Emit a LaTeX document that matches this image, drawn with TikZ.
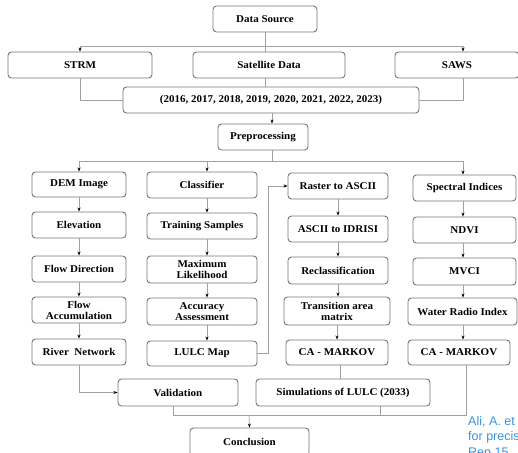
\documentclass[tikz,border=0pt]{standalone}
\usepackage{fontspec}
\setmainfont[FakeStretch=1.06]{Liberation Serif}
\newfontfamily\citefont{Liberation Sans}
\usetikzlibrary{arrows.meta}
\definecolor{boxline}{HTML}{767676}
\definecolor{conn}{HTML}{A0A0A0}
\definecolor{citeblue}{HTML}{3A8FE3}
\tikzset{
  fbox/.style={draw=boxline, line width=0.9pt, rounded corners=3.5pt, fill=white,
    inner sep=0pt, align=center, font=\bfseries\fontsize{10.4}{11}\selectfont},
  conline/.style={draw=conn, line width=0.7pt},
  conarrow/.style={conline, -{Stealth[length=4pt,width=3pt,color=black]}},
  citetext/.style={anchor=base west, inner sep=0pt, text=citeblue, font=\citefont\fontsize{12.5}{15}\selectfont}
}
\begin{document}
\begin{tikzpicture}[x=1pt,y=-1pt]
\useasboundingbox (0,0) rectangle (518,452);
\clip (0,0) rectangle (518,452);
% top
\node[fbox, minimum width=104, minimum height=26] (ds) at (265,19) {Data Source};
\node[fbox, minimum width=144, minimum height=26] (strm) at (80,65) {STRM};
\node[fbox, minimum width=152, minimum height=26] (sat) at (269,65) {Satellite Data};
\node[fbox, minimum width=124, minimum height=26] (saws) at (457,65) {SAWS};
\node[fbox, minimum width=296, minimum height=26] (years) at (271,100) {(2016, 2017, 2018, 2019, 2020, 2021, 2022, 2023)};
\node[fbox, minimum width=90, minimum height=26] (pre) at (263,137) {Preprocessing};
% column 1
\node[fbox, minimum width=94, minimum height=25] (dem) at (79,184.5) {DEM Image};
\node[fbox, minimum width=94, minimum height=26] (elev) at (79,225) {Elevation};
\node[fbox, minimum width=94, minimum height=26] (fdir) at (79,269) {Flow Direction};
\node[fbox, minimum width=94, minimum height=26] (facc) at (79,310) {Flow\\Accumulation};
\node[fbox, minimum width=94, minimum height=26] (river) at (79,352) {River\ \ Network};
% column 2
\node[fbox, minimum width=110, minimum height=26] (cls) at (202,185) {Classifier};
\node[fbox, minimum width=110, minimum height=26] (train) at (202,226) {Training Samples};
\node[fbox, minimum width=110, minimum height=27] (ml) at (202,269.5) {Maximum\\Likelihood};
\node[fbox, minimum width=110, minimum height=27] (acc) at (202,311.5) {Accuracy\\Assessment};
\node[fbox, minimum width=110, minimum height=25] (lulc) at (202,353.5) {LULC Map};
% column 3
\node[fbox, minimum width=100, minimum height=26] (ras) at (338,186) {Raster to ASCII};
\node[fbox, minimum width=100, minimum height=26] (a2i) at (338,229) {ASCII to IDRISI};
\node[fbox, minimum width=100, minimum height=27] (recl) at (338,270.5) {Reclassification};
\node[fbox, minimum width=106, minimum height=28] (trans) at (337,311) {Transition area\\matrix};
\node[fbox, minimum width=102, minimum height=25] (ca1) at (337,352.5) {CA - MARKOV};
% column 4
\node[fbox, minimum width=103, minimum height=26] (spec) at (464.5,188) {Spectral Indices};
\node[fbox, minimum width=103, minimum height=26] (ndvi) at (464.5,230) {NDVI};
\node[fbox, minimum width=103, minimum height=27] (mvci) at (464.5,271.5) {MVCI};
\node[fbox, minimum width=109, minimum height=27] (wri) at (462.5,311.5) {Water Radio Index};
\node[fbox, minimum width=102, minimum height=25] (ca2) at (459,352.5) {CA - MARKOV};
% bottom
\node[fbox, minimum width=120, minimum height=27] (val) at (178,392.5) {Validation};
\node[fbox, minimum width=174, minimum height=27] (sim) at (343,392.5) {Simulations of LULC (2033)};
\node[fbox, minimum width=119, minimum height=28] (concl) at (249.5,442) {Conclusion};
% citation text
\node[citetext] (cite1) at (468,425) {Ali, A. et};
\node[citetext] (cite2) at (468,440.5) {for precis};
\node[citetext] (cite3) at (468,456) {Rep 15};
% bus coordinates
\coordinate (busA) at (265,46);
\coordinate (busB) at (272,161);
\coordinate (busC) at (249,415);
% top connectors
\draw[conline] (ds.south) -- (ds.south |- sat.north);
\draw[conarrow] (busA) -| (strm.north);
\draw[conarrow] (busA) -| ([xshift=6]saws.north);
\draw[conline] (strm.south) |- (years.west);
\draw[conline] ([xshift=6]saws.south) |- (years.east);
\draw[conline] ([xshift=-4]sat.south) -- ([xshift=-4]sat.south |- years.north);
\draw[conarrow] ([xshift=1]years.south) -- ([xshift=1]years.south |- pre.north);
% preprocessing bus
\draw[conline] (busB |- pre.south) -- (busB);
\draw[conarrow] (busB) -| (dem.north);
\draw[conarrow] (busB) -| ([xshift=5]cls.north);
\draw[conarrow] (busB) -| ([xshift=-1.5]spec.north);
% column arrows
\draw[conarrow] (dem) -- (elev);
\draw[conarrow] (elev) -- (fdir);
\draw[conarrow] (fdir) -- (facc);
\draw[conarrow] (facc) -- (river);
\draw[conarrow] ([xshift=5]cls.south) -- ([xshift=5]train.north);
\draw[conarrow] ([xshift=5]train.south) -- ([xshift=5]ml.north);
\draw[conarrow] ([xshift=5]ml.south) -- ([xshift=5]acc.north);
\draw[conarrow] ([xshift=5]acc.south) -- ([xshift=5]lulc.north);
\draw[conarrow] (ras) -- (a2i);
\draw[conarrow] (a2i) -- (recl);
\draw[conarrow] (recl.south) -- (recl.south |- trans.north);
\draw[conarrow] (trans.south) -- (trans.south |- ca1.north);
\draw[conarrow] ([xshift=-1.5]spec.south) -- ([xshift=-1.5]ndvi.north);
\draw[conarrow] ([xshift=-1.5]ndvi.south) -- ([xshift=-1.5]mvci.north);
\draw[conarrow] ([xshift=-1.5]mvci.south) -- ([xshift=-1.5]mvci.south |- wri.north);
\draw[conarrow] ([xshift=-1.5]mvci.south |- wri.south) -- ([xshift=-1.5]mvci.south |- ca2.north);
% LULC to raster
\draw[conarrow] (lulc.east) -- ++(11,0) |- (ras.west);
% bottom connectors
\draw[conarrow] (river.south) |- (val.west);
\draw[conline] ([xshift=3]ca1.south) -- ([xshift=3]ca1.south |- sim.north);
\draw[conline] ([xshift=-5]val.south) -- ([xshift=-5]val.south |- busC) -- ([xshift=7]ca2.south |- busC) -- ([xshift=7]ca2.south);
\draw[conline] ([xshift=37]sim.south) -- ([xshift=37]sim.south |- busC);
\draw[conarrow] (busC) -- (concl.north);
\end{tikzpicture}
\end{document}
